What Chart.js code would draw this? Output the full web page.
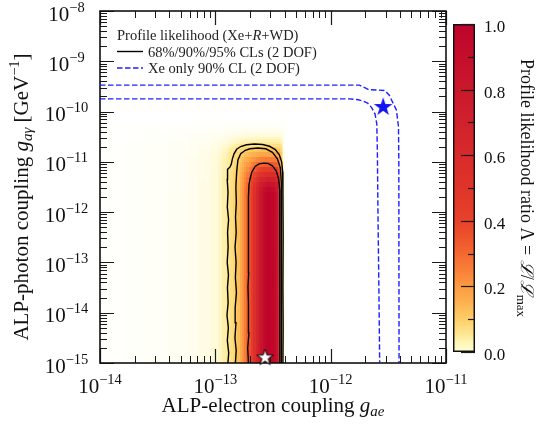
<!DOCTYPE html>
<html>
<head>
<meta charset="utf-8">
<script src="https://cdn.jsdelivr.net/npm/chart.js@4.4.0/dist/chart.umd.min.js"></script>
<style>
  html, body { margin: 0; padding: 0; background: #fff; }
  #wrap { position: relative; width: 537px; height: 425px; }
  #main { position: absolute; left: 0; top: 0; }
  #cbar { position: absolute; left: 440px; top: 0; }
</style>
</head>
<body>
<div id="wrap">
  <canvas id="main" width="537" height="425"></canvas>
  <canvas id="cbar" width="97" height="425"></canvas>
</div>
<script>
// ---- data (all couplings as log10 values) ----

// heat map columns: g_ae edges and profile likelihood across the band
const gaeEdgesLog = [-14.0, -13.8, -13.6, -13.4, -13.25, -13.15, -13.05, -12.98, -12.94, -12.91,
  -12.89, -12.87, -12.85, -12.83, -12.81, -12.79, -12.77, -12.75, -12.73, -12.71,
  -12.69, -12.67, -12.65, -12.63, -12.61, -12.59, -12.57, -12.55, -12.53, -12.51,
  -12.49, -12.47, -12.455, -12.44, -12.425, -12.41, -12.395, -12.38, -11.0];
const lambdaAcrossGae = [0.004, 0.006, 0.008, 0.011, 0.015, 0.019, 0.025, 0.033, 0.042,
  0.048, 0.058, 0.07, 0.085, 0.105, 0.13, 0.17, 0.21, 0.26, 0.31,
  0.37, 0.45, 0.55, 0.66, 0.76, 0.85, 0.92, 0.97, 1.0, 0.99,
  0.97, 0.93, 0.85, 0.6, 0.2, 0.07, 0.02, 0.005, 0];

// heat map rows: g_agamma edges and how high the likelihood can reach there
const gagEdgesLog = [-15, -11.6, -11.5, -11.4, -11.3, -11.2, -11.1, -11.0, -10.9, -10.8,
  -10.75, -10.7, -10.65, -10.6, -10.55, -10.5, -10.45, -10.4, -10.35, -10.3, -10.2, -10.1, -8];
const lambdaAlongGag = [1.0, 0.95, 0.85, 0.72, 0.58, 0.45, 0.34, 0.26, 0.18, 0.13,
  0.10, 0.07, 0.05, 0.04, 0.032, 0.025, 0.02, 0.015, 0.01, 0.006, 0.003, 0];

// CL contours [log g_ae, log g_agamma]
const contour68 = [[-12.713,-15],[-12.719,-14.7],[-12.709,-14.4],[-12.716,-14.1],[-12.71,-13.8],
  [-12.717,-13.5],[-12.711,-13.2],[-12.716,-12.9],[-12.709,-12.6],[-12.715,-12.3],[-12.711,-12.0],
  [-12.714,-11.7],[-12.708,-11.45],[-12.698,-11.33],[-12.683,-11.2],[-12.655,-11.09],[-12.62,-11.04],
  [-12.58,-11.025],[-12.544,-11.03],[-12.505,-11.08],[-12.472,-11.18],[-12.452,-11.33],[-12.442,-11.55],
  [-12.44,-12.0],[-12.441,-13.0],[-12.44,-14.0],[-12.441,-15]];
const contour90 = [[-12.826,-15],[-12.819,-14.75],[-12.83,-14.5],[-12.821,-14.2],[-12.828,-13.9],
  [-12.817,-13.6],[-12.826,-13.3],[-12.82,-13.0],[-12.829,-12.7],[-12.819,-12.4],[-12.825,-12.1],
  [-12.818,-11.8],[-12.822,-11.5],[-12.815,-11.2],[-12.804,-10.96],[-12.78,-10.84],[-12.74,-10.77],
  [-12.70,-10.74],[-12.631,-10.725],[-12.562,-10.74],[-12.505,-10.81],[-12.462,-10.94],[-12.436,-11.12],
  [-12.428,-11.4],[-12.427,-12.0],[-12.428,-13.0],[-12.426,-14.0],[-12.428,-15]];
const contour95 = [[-12.891,-15.0],[-12.884,-14.8],[-12.896,-14.55],[-12.887,-14.3],[-12.899,-14.05],
  [-12.889,-13.8],[-12.895,-13.5],[-12.886,-13.25],[-12.897,-13.0],[-12.889,-12.7],[-12.894,-12.4],
  [-12.885,-12.15],[-12.896,-11.9],[-12.890,-11.6],[-12.897,-11.35],[-12.894,-11.15],[-12.872,-11.10],
  [-12.862,-11.05],[-12.853,-10.95],[-12.838,-10.84],[-12.815,-10.75],[-12.78,-10.695],[-12.73,-10.66],
  [-12.66,-10.645],[-12.59,-10.655],[-12.53,-10.69],[-12.48,-10.755],[-12.445,-10.86],[-12.425,-11.0],
  [-12.416,-11.2],[-12.414,-11.6],[-12.412,-12.5],[-12.414,-13.5],[-12.412,-14.3],[-12.414,-15.0]];

// Xe only 90% CL contour (two branches)
const xeOuter = [[-14,-9.475],[-11.75,-9.475],[-11.70,-9.53],[-11.67,-9.565],[-11.53,-9.58],
  [-11.49,-9.68],[-11.47,-9.78],[-11.43,-9.97],[-11.412,-10.3],[-11.409,-11],[-11.408,-13],[-11.407,-15]];
const xeInner = [[-14,-9.747],[-11.84,-9.747],[-11.76,-9.765],[-11.72,-9.79],[-11.68,-9.83],
  [-11.645,-9.92],[-11.615,-10.05],[-11.60,-10.25],[-11.595,-10.8],[-11.59,-12],[-11.582,-13.5],[-11.575,-15]];

// best fit points
const bestFitXe = [-11.545, -9.91];
const bestFitAll = [-12.569, -14.895];

// ticks
const xTickExps = [-14, -13, -12, -11];
const yTickExps = [-15, -14, -13, -12, -11, -10, -9, -8];
const cbarTicks = [0, 0.2, 0.4, 0.6, 0.8, 1.0];
const cbarMinorTicks = [0.1, 0.3, 0.5, 0.7, 0.9];

// ---- styles ----
const SERIF = '"Liberation Serif", "DejaVu Serif", serif';
const font = (size, style) => (style ? style + ' ' : '') + size + 'px ' + SERIF;
const cmap = [
  [0.00, [255, 255, 214]], [0.03, [255, 244, 178]], [0.06, [254, 228, 140]],
  [0.10, [254, 206, 104]], [0.15, [253, 178, 80]], [0.20, [252, 154, 66]],
  [0.25, [249, 128, 56]], [0.30, [244, 104, 48]], [0.35, [238, 84, 44]],
  [0.40, [232, 66, 42]], [0.50, [224, 52, 42]], [0.60, [216, 42, 43]],
  [0.70, [209, 33, 44]], [0.80, [202, 24, 44]], [0.90, [196, 14, 43]], [1.00, [190, 4, 42]]
];

function cmapRgb(v) {
  for (let i = 1; i < cmap.length; i++) {
    if (v <= cmap[i][0]) {
      const t = (v - cmap[i - 1][0]) / (cmap[i][0] - cmap[i - 1][0]);
      return cmap[i - 1][1].map((c, k) => c + (cmap[i][1][k] - c) * t);
    }
  }
  return cmap[cmap.length - 1][1];
}
function heatColor(v) {
  const c = cmapRgb(v);
  const a = Math.min(1, Math.pow(v / 0.045, 1.1)); // faint tails fade into the white background
  const m = c.map(ch => Math.round(255 + (ch - 255) * a));
  return `rgb(${m[0]},${m[1]},${m[2]})`;
}
// combine the two read profiles (soft minimum, rounds the top corners of the band)
const cellLambda = (bx, by) => (bx <= 0 || by <= 0) ? 0 : bx * by / (bx + by - bx * by);

function drawRich(ctx, parts, x, y, align) {
  let w = 0;
  parts.forEach(p => { ctx.font = p[1]; w += ctx.measureText(p[0]).width; });
  let cx = align === 'center' ? x - w / 2 : align === 'right' ? x - w : x;
  parts.forEach(p => {
    ctx.font = p[1];
    ctx.fillText(p[0], cx, y + (p[2] || 0));
    cx += ctx.measureText(p[0]).width;
  });
}

function makeStar(r, fill, stroke) {
  const s = Math.ceil(2 * r + 4);
  const c = document.createElement('canvas');
  c.width = s; c.height = s;
  const g = c.getContext('2d');
  g.beginPath();
  for (let k = 0; k < 10; k++) {
    const rr = k % 2 ? r * 0.39 : r;
    const ang = -Math.PI / 2 + k * Math.PI / 5;
    g.lineTo(s / 2 + rr * Math.cos(ang), s / 2 + rr * Math.sin(ang));
  }
  g.closePath();
  g.fillStyle = fill;
  g.fill();
  if (stroke) { g.lineWidth = 1; g.strokeStyle = stroke; g.stroke(); }
  return c;
}

const toPoints = arr => arr.map(p => ({ x: Math.pow(10, p[0]), y: Math.pow(10, p[1]) }));

// heat map, frame and ticks go under the datasets
const heatmapPlugin = {
  id: 'heatmap',
  beforeDatasetsDraw(chart) {
    const { ctx, chartArea: a, scales: { x, y } } = chart;
    ctx.save();
    ctx.beginPath();
    ctx.rect(a.left, a.top, a.width, a.height);
    ctx.clip();
    for (let i = 0; i < lambdaAcrossGae.length; i++) {
      const x0 = Math.round(x.getPixelForValue(Math.pow(10, gaeEdgesLog[i])));
      const x1 = Math.round(x.getPixelForValue(Math.pow(10, gaeEdgesLog[i + 1])));
      for (let j = 0; j < lambdaAlongGag.length; j++) {
        const v = cellLambda(lambdaAcrossGae[i], lambdaAlongGag[j]);
        if (v <= 0) continue;
        const y0 = Math.round(y.getPixelForValue(Math.pow(10, gagEdgesLog[j])));
        const y1 = Math.round(y.getPixelForValue(Math.pow(10, gagEdgesLog[j + 1])));
        ctx.fillStyle = heatColor(v);
        ctx.fillRect(x0, y1, x1 - x0, y0 - y1);
      }
    }
    ctx.restore();

    // ticks on all four sides, pointing in
    ctx.save();
    ctx.strokeStyle = '#1a1a1a';
    const tick = (px, horiz, len, lw) => {
      ctx.lineWidth = lw;
      ctx.beginPath();
      const p = Math.round(px) + 0.5;
      if (horiz) {
        ctx.moveTo(p, a.bottom); ctx.lineTo(p, a.bottom - len);
        ctx.moveTo(p, a.top); ctx.lineTo(p, a.top + len);
      } else {
        ctx.moveTo(a.left, p); ctx.lineTo(a.left + len, p);
        ctx.moveTo(a.right, p); ctx.lineTo(a.right - len, p);
      }
      ctx.stroke();
    };
    for (let e = xTickExps[0]; e <= xTickExps[xTickExps.length - 1]; e++) {
      tick(x.getPixelForValue(Math.pow(10, e)), true, 14, 1.2);
      if (e < xTickExps[xTickExps.length - 1]) {
        for (let m = 2; m <= 9; m++) tick(x.getPixelForValue(m * Math.pow(10, e)), true, 7, 1);
      }
    }
    for (let e = yTickExps[0]; e <= yTickExps[yTickExps.length - 1]; e++) {
      tick(y.getPixelForValue(Math.pow(10, e)), false, 14, 1.2);
      if (e < yTickExps[yTickExps.length - 1]) {
        for (let m = 2; m <= 9; m++) tick(y.getPixelForValue(m * Math.pow(10, e)), false, 7, 1);
      }
    }
    ctx.lineWidth = 1.6;
    ctx.strokeStyle = '#111';
    ctx.strokeRect(a.left, a.top, a.width, a.height);
    ctx.restore();
  },
  afterDraw(chart) {
    const { ctx, chartArea: a, scales: { x, y } } = chart;
    ctx.save();
    ctx.fillStyle = '#111';
    ctx.textBaseline = 'alphabetic';
    // tick labels
    xTickExps.forEach(e => {
      drawRich(ctx, [['10', font(21)], ['\u2212' + (-e), font(14.5), -9]],
        x.getPixelForValue(Math.pow(10, e)), 393, 'center');
    });
    yTickExps.forEach(e => {
      drawRich(ctx, [['10', font(21)], ['\u2212' + (-e), font(14.5), -9]],
        66.5, y.getPixelForValue(Math.pow(10, e)) + 9.5, 'center');
    });
    // axis titles
    drawRich(ctx, [['ALP-electron coupling ', font(21)], ['g', font(21, 'italic')], ['ae', font(15, 'italic'), 4]],
      (a.left + a.right) / 2, 412, 'center');
    ctx.save();
    ctx.translate(28, 197);
    ctx.rotate(-Math.PI / 2);
    drawRich(ctx, [['ALP-photon coupling ', font(21)], ['g', font(21, 'italic')], ['a\u03b3', font(15, 'italic'), 4],
      [' [GeV', font(21)], ['\u22121', font(14.5), -9], [']', font(21)]], 0, 0, 'center');
    ctx.restore();

    // legend
    ctx.fillStyle = '#222';
    drawRich(ctx, [['Profile likelihood (Xe+', font(14.5)], ['R', font(14.5, 'italic')], ['+WD)', font(14.5)]], 117, 40, 'left');
    drawRich(ctx, [['68%/90%/95% CLs (2 DOF)', font(14.5)]], 148, 56.5, 'left');
    drawRich(ctx, [['Xe only 90% CL (2 DOF)', font(14.5)]], 148, 73, 'left');
    ctx.lineWidth = 1.4;
    ctx.strokeStyle = '#000';
    ctx.beginPath(); ctx.moveTo(117, 51.5); ctx.lineTo(143, 51.5); ctx.stroke();
    ctx.strokeStyle = '#1f1fff';
    ctx.setLineDash([5.5, 2.5]);
    ctx.beginPath(); ctx.moveTo(117, 68); ctx.lineTo(143, 68); ctx.stroke();
    ctx.restore();
  }
};

const contourStyle = { showLine: true, pointRadius: 0, borderColor: '#000', borderWidth: 1.4, tension: 0, fill: false };
const xeStyle = { showLine: true, pointRadius: 0, borderColor: '#1f1fff', borderWidth: 1.4, borderDash: [5.5, 2.5], tension: 0, fill: false };

new Chart(document.getElementById('main'), {
  type: 'scatter',
  data: {
    datasets: [
      { label: 'best fit', data: toPoints([bestFitAll]), pointStyle: makeStar(8.5, '#fff', '#000'), pointRadius: 9, clip: false },
      { label: 'Xe best fit', data: toPoints([bestFitXe]), pointStyle: makeStar(9.8, '#1414f0'), pointRadius: 10, clip: false },
      Object.assign({ label: '68% CL', data: toPoints(contour68) }, contourStyle),
      Object.assign({ label: '90% CL', data: toPoints(contour90) }, contourStyle),
      Object.assign({ label: '95% CL', data: toPoints(contour95) }, contourStyle),
      Object.assign({ label: 'Xe only 90% CL', data: toPoints(xeOuter) }, xeStyle),
      Object.assign({ label: 'Xe only 90% CL (inner)', data: toPoints(xeInner) }, xeStyle)
    ]
  },
  options: {
    responsive: false,
    animation: false,
    layout: { padding: { left: 100, right: 91, top: 11, bottom: 62 } },
    scales: {
      x: { type: 'logarithmic', min: 1e-14, max: 1e-11, display: false },
      y: { type: 'logarithmic', min: 1e-15, max: 1e-8, display: false }
    },
    plugins: { legend: { display: false }, tooltip: { enabled: false } }
  },
  plugins: [heatmapPlugin]
});

// colour bar
const cbarPlugin = {
  id: 'cbarTicks',
  afterDraw(chart) {
    const { ctx, chartArea: a, scales: { y } } = chart;
    ctx.save();
    ctx.strokeStyle = '#1a1a1a';
    cbarTicks.concat(cbarMinorTicks).forEach(v => {
      const p = Math.round(y.getPixelForValue(v)) + 0.5;
      const len = cbarTicks.includes(v) ? 14 : 7;
      ctx.lineWidth = 1.2;
      ctx.beginPath(); ctx.moveTo(a.right, p); ctx.lineTo(a.right - len, p); ctx.stroke();
    });
    ctx.fillStyle = '#111';
    cbarTicks.forEach(v => {
      drawRich(ctx, [[v.toFixed(1), font(17)]], a.right + 9, y.getPixelForValue(v) + 8, 'left');
    });
    ctx.translate(81, (a.top + a.bottom) / 2);
    ctx.rotate(Math.PI / 2);
    drawRich(ctx, [['Profile likelihood ratio \u039b = ', font(18)], ['\u2112', font(18, 'italic')], ['/', font(18)],
      ['\u2112', font(18, 'italic')], ['max', font(13), 4]], 0, 0, 'center');
    ctx.restore();
  }
};

new Chart(document.getElementById('cbar'), {
  type: 'bar',
  data: {
    labels: ['\u039b'],
    datasets: [{
      data: [[0, 1]],
      backgroundColor(context) {
        const { chart } = context;
        if (!chart.chartArea) return null;
        const ys = chart.scales.y;
        const g = chart.ctx.createLinearGradient(0, ys.getPixelForValue(0), 0, ys.getPixelForValue(1));
        cmap.forEach(s => g.addColorStop(s[0], `rgb(${s[1].join(',')})`));
        return g;
      },
      borderColor: '#111',
      borderWidth: 1.8,
      borderSkipped: false,
      barPercentage: 1,
      categoryPercentage: 1
    }]
  },
  options: {
    responsive: false,
    animation: false,
    layout: { padding: { left: 13, right: 62, top: 24, bottom: 73 } },
    scales: { x: { display: false }, y: { display: false, min: 0, max: 1 } },
    plugins: { legend: { display: false }, tooltip: { enabled: false } }
  },
  plugins: [cbarPlugin]
});
</script>
</body>
</html>
